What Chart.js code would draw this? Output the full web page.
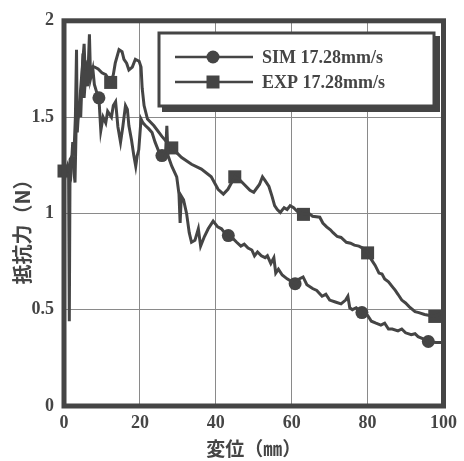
<!DOCTYPE html>
<html>
<head>
<meta charset="utf-8">
<script src="https://cdn.jsdelivr.net/npm/chart.js@4"></script>
<style>
  body { margin: 0; background: #fff; }
  #wrap { width: 464px; height: 461px; position: relative; }
</style>
</head>
<body>
<div id="wrap"><canvas id="myChart" width="464" height="461"></canvas></div>
<script>
// dati (spostamento mm -> forza N)
const seriesNames = ['SIM 17.28mm/s', 'EXP 17.28mm/s'];
const xTitle = '変位（㎜）';
const yTitle = '抵抗力（N）';

const simX = [0, 0.3, 1.0, 1.8, 2.3, 2.6, 3.0, 3.3, 3.5, 4.0, 4.4, 5.0, 5.3, 5.8, 6.2, 6.7, 7.0, 7.6, 8.0, 8.6, 9.2, 9.7, 10.3, 11.0, 11.5, 12.5, 13.0, 13.6, 14.2, 14.9, 15.5, 16.2, 16.7, 17.1, 17.8, 18.4, 18.9, 19.3, 19.7, 20.3, 20.8, 21.5, 22.3, 23.2, 24.0, 25.0, 25.8, 26.8, 27.1, 27.4, 28.4, 29.7, 30.3, 30.6, 30.9, 31.5, 32.3, 33.0, 33.6, 34.5, 35.4, 36.0, 37.0, 38.0, 39.3, 40.5, 41.5, 42.3, 43.3, 44.5, 45.5, 46.6, 47.5, 48.5, 49.5, 50.2, 51.0, 52.0, 53.0, 53.6, 54.5, 55.3, 55.8, 56.5, 57.5, 58.8, 60.9, 62.0, 63.0, 64.0, 65.5, 66.6, 68.0, 69.0, 70.0, 71.5, 73.0, 74.2, 74.8, 75.3, 76.0, 77.0, 78.5, 80.0, 81.0, 82.2, 83.5, 84.5, 85.5, 86.5, 88.0, 89.0, 90.0, 91.5, 92.5, 93.3, 94.5, 96.0, 98.0, 100];
const simY = [1.15, 1.2, 1.25, 1.2, 1.37, 1.3, 1.5, 1.85, 1.42, 1.58, 1.5, 1.83, 1.6, 1.74, 1.66, 1.93, 1.7, 1.75, 1.67, 1.63, 1.6, 1.43, 1.5, 1.47, 1.53, 1.5, 1.56, 1.58, 1.45, 1.37, 1.45, 1.56, 1.54, 1.455, 1.38, 1.3, 1.245, 1.3, 1.33, 1.49, 1.47, 1.455, 1.44, 1.42, 1.37, 1.32, 1.3, 1.33, 1.455, 1.3, 1.245, 1.19, 1.1, 0.95, 1.09, 1.07, 1.0, 0.9, 0.85, 0.86, 0.92, 0.83, 0.88, 0.92, 0.96, 0.93, 0.92, 0.9, 0.885, 0.87, 0.85, 0.83, 0.84, 0.82, 0.81, 0.78, 0.8, 0.78, 0.77, 0.78, 0.74, 0.77, 0.69, 0.71, 0.68, 0.66, 0.635, 0.66, 0.67, 0.63, 0.61, 0.6, 0.57, 0.58, 0.55, 0.54, 0.53, 0.55, 0.57, 0.51, 0.5, 0.51, 0.485, 0.47, 0.44, 0.43, 0.42, 0.43, 0.4, 0.4, 0.39, 0.4, 0.38, 0.37, 0.375, 0.36, 0.35, 0.335, 0.33, 0.33];

const expX = [0, 1.2, 1.4, 1.6, 2.2, 2.9, 3.2, 3.7, 4.2, 4.6, 5.3, 5.6, 6.2, 7.0, 8.0, 9.0, 10.0, 11.0, 12.3, 13.0, 13.5, 14.5, 15.3, 15.8, 16.5, 17.1, 18.0, 18.8, 19.8, 20.3, 20.6, 21.1, 22.0, 23.7, 25.8, 28.4, 31.0, 33.6, 36.2, 38.8, 40.6, 42.0, 43.2, 45.0, 46.0, 47.5, 49.0, 50.0, 51.5, 52.3, 53.0, 54.0, 54.8, 55.5, 56.2, 57.0, 58.0, 58.8, 59.6, 60.5, 61.5, 63.1, 64.5, 65.5, 67.4, 68.2, 69.2, 70.2, 70.9, 72.0, 73.0, 74.4, 75.5, 76.5, 77.7, 78.7, 80.0, 81.0, 82.0, 83.0, 83.8, 84.5, 85.5, 86.5, 87.3, 88.0, 89.0, 90.0, 91.0, 92.5, 93.5, 95.0, 97.7, 99.5, 100];
const expY = [1.22, 1.24, 0.44, 1.28, 1.3, 1.16, 1.45, 1.5, 1.6, 1.7, 1.88, 1.72, 1.78, 1.76, 1.76, 1.75, 1.73, 1.72, 1.68, 1.72, 1.78, 1.85, 1.84, 1.8, 1.78, 1.745, 1.76, 1.8, 1.79, 1.76, 1.65, 1.56, 1.49, 1.455, 1.4, 1.34, 1.29, 1.255, 1.23, 1.19, 1.125, 1.1, 1.125, 1.19, 1.18, 1.15, 1.12, 1.11, 1.15, 1.19, 1.17, 1.14, 1.09, 1.04, 1.02, 1.005, 1.03, 1.02, 1.04, 1.03, 1.01, 0.995, 1.0, 0.985, 0.98, 0.95, 0.93, 0.915, 0.9, 0.88, 0.875, 0.85, 0.845, 0.835, 0.83, 0.82, 0.795, 0.76, 0.73, 0.69, 0.685, 0.66, 0.645, 0.62, 0.6, 0.58, 0.55, 0.535, 0.515, 0.49, 0.485, 0.475, 0.465, 0.485, 0.48];

// posizione dei marker
const simMarkX = [9.2, 25.8, 43.3, 60.9, 78.5, 96.0];
const simMarkY = [1.6, 1.3, 0.885, 0.635, 0.485, 0.335];
const expMarkX = [0, 12.3, 28.4, 45.0, 63.1, 80.0, 97.7];
const expMarkY = [1.22, 1.68, 1.34, 1.19, 0.995, 0.795, 0.465];

const xTicks = [0, 20, 40, 60, 80, 100];
const xTickLabels = ['0', '20', '40', '60', '80', '100'];
const yTicks = [0, 0.5, 1, 1.5, 2];
const yTickLabels = ['0', '0.5', '1', '1.5', '2'];

const ink = '#454545';
const toPts = (xs, ys) => xs.map((x, i) => ({x: x, y: ys[i]}));

// cornice spessa, titolo asse y e legenda con riquadro ombreggiato
const framePlugin = {
  id: 'frame',
  afterDatasetsDraw(chart) {
    const {ctx, chartArea: a} = chart;
    ctx.save();
    ctx.strokeStyle = ink;
    ctx.lineWidth = 5;
    ctx.strokeRect(a.left, a.top, a.right - a.left, a.bottom - a.top);
    ctx.restore();
  },
  afterDraw(chart) {
    const ctx = chart.ctx;
    ctx.save();
    // titolo asse y (un po' sotto il centro, come nell'originale)
    ctx.save();
    ctx.translate(22, 227);
    ctx.rotate(-Math.PI / 2);
    ctx.fillStyle = ink;
    ctx.font = 'bold 20px "Noto Sans CJK JP"';
    ctx.textAlign = 'center';
    ctx.textBaseline = 'middle';
    ctx.fillText(yTitle, 0, 0);
    ctx.restore();

    ctx.fillStyle = ink;
    ctx.fillRect(162, 36, 278, 76);
    ctx.fillStyle = '#fff';
    ctx.fillRect(159, 33, 275, 73);
    ctx.strokeStyle = ink;
    ctx.lineWidth = 3;
    ctx.strokeRect(159, 33, 275, 73);
    const rows = [57, 82];
    rows.forEach((y, i) => {
      ctx.strokeStyle = ink;
      ctx.lineWidth = 2.5;
      ctx.beginPath();
      ctx.moveTo(175, y);
      ctx.lineTo(253, y);
      ctx.stroke();
      ctx.fillStyle = ink;
      ctx.beginPath();
      if (i === 0) {
        ctx.arc(213, y, 6.5, 0, Math.PI * 2);
      } else {
        ctx.rect(206.5, y - 6.5, 13, 13);
      }
      ctx.fill();
      ctx.font = 'bold 18px "Liberation Serif"';
      ctx.textBaseline = 'middle';
      ctx.textAlign = 'left';
      ctx.fillText(seriesNames[i], 262, y + 1);
    });
    ctx.restore();
  }
};

const data = {
  datasets: [
    {
      label: seriesNames[0],
      data: toPts(simX, simY),
      showLine: true,
      borderColor: ink,
      borderWidth: 3,
      pointRadius: 0,
      tension: 0
    },
    {
      label: seriesNames[1],
      data: toPts(expX, expY),
      showLine: true,
      borderColor: ink,
      borderWidth: 3,
      pointRadius: 0,
      tension: 0
    },
    {
      label: 'sim-marker',
      data: toPts(simMarkX, simMarkY),
      showLine: false,
      pointStyle: 'circle',
      pointRadius: 6.5,
      backgroundColor: ink,
      borderColor: ink,
      borderWidth: 0,
      clip: false
    },
    {
      label: 'exp-marker',
      data: toPts(expMarkX, expMarkY),
      showLine: false,
      pointStyle: 'rect',
      pointRadius: 9.2,
      backgroundColor: ink,
      borderColor: ink,
      borderWidth: 0,
      clip: false
    }
  ]
};

const config = {
  type: 'scatter',
  data: data,
  options: {
    responsive: false,
    animation: false,
    layout: { padding: { left: 0, right: 14, top: 20, bottom: 0 } },
    plugins: {
      legend: { display: false },
      tooltip: { enabled: false }
    },
    scales: {
      x: {
        type: 'linear',
        min: 0,
        max: 100,
        afterBuildTicks: s => { s.ticks = xTicks.map(v => ({value: v})); },
        afterFit: s => { s.height = 55; },
        grid: { color: '#8a8a8a', lineWidth: 1, drawTicks: false },
        border: { display: false },
        ticks: {
          padding: 7,
          color: ink,
          font: { family: '"Liberation Serif"', size: 18, weight: 'bold' },
          callback: v => xTickLabels[xTicks.indexOf(v)]
        },
        title: {
          display: true,
          text: xTitle,
          color: ink,
          padding: { top: 0, bottom: 1 },
          font: { family: '"Noto Sans CJK JP"', size: 19, weight: 'bold' }
        }
      },
      y: {
        type: 'linear',
        min: 0,
        max: 2,
        afterBuildTicks: s => { s.ticks = yTicks.map(v => ({value: v})); },
        afterFit: s => { s.width = 64; },
        grid: { color: '#8a8a8a', lineWidth: 1, drawTicks: false },
        border: { display: false },
        ticks: {
          padding: 10,
          color: ink,
          font: { family: '"Liberation Serif"', size: 18, weight: 'bold' },
          callback: v => yTickLabels[yTicks.indexOf(v)]
        },
        title: { display: false }
      }
    }
  },
  plugins: [framePlugin]
};

const myChart = new Chart(document.getElementById('myChart'), config);
</script>
</body>
</html>
